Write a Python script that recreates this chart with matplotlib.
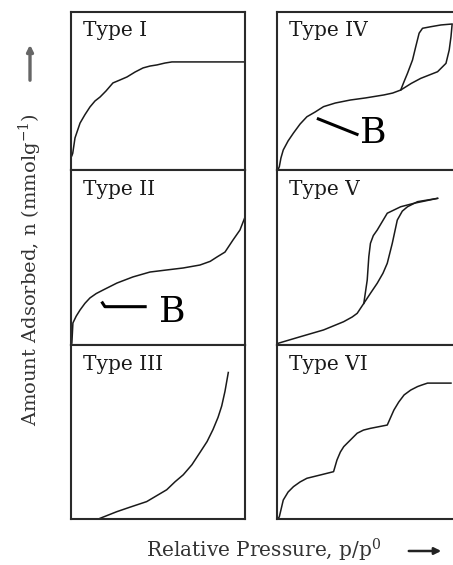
import matplotlib
matplotlib.use("Agg")
import matplotlib.pyplot as plt
from matplotlib.patches import FancyArrowPatch

plt.rcParams['font.family'] = ['DejaVu Serif']
plt.rcParams['mathtext.fontset'] = 'dejavuserif'

W, H = 453, 565
INK = '#1a1a1a'

# curves in panel units (x: 0..1 relative pressure, y: 0..1 amount)
t1_x = [0.005, 0.01, 0.023, 0.052, 0.080, 0.109, 0.138, 0.167, 0.201, 0.241, 0.282, 0.322,
        0.368, 0.414, 0.454, 0.494, 0.540, 0.580, 1.0]
t1_y = [0.09, 0.106, 0.203, 0.297, 0.350, 0.399, 0.437, 0.462, 0.500, 0.551, 0.570, 0.589,
        0.620, 0.646, 0.658, 0.665, 0.677, 0.684, 0.684]

t2_x = [0.005, 0.011, 0.030, 0.052, 0.080, 0.109, 0.145, 0.184, 0.264, 0.356, 0.454, 0.552,
        0.644, 0.741, 0.800, 0.839, 0.885, 0.931, 0.971, 1.0]
t2_y = [0.011, 0.126, 0.165, 0.200, 0.238, 0.269, 0.294, 0.314, 0.354, 0.389, 0.417, 0.429,
        0.440, 0.457, 0.478, 0.503, 0.531, 0.600, 0.657, 0.731]

t3_x = [0.167, 0.263, 0.339, 0.435, 0.550, 0.598, 0.645, 0.695, 0.741, 0.782, 0.816, 0.845,
        0.866, 0.885, 0.904]
t3_y = [0.004, 0.042, 0.068, 0.100, 0.168, 0.214, 0.254, 0.312, 0.382, 0.445, 0.514, 0.584,
        0.649, 0.734, 0.842]

t4_ads_x = [0.005, 0.013, 0.022, 0.035, 0.062, 0.092, 0.129, 0.167, 0.213, 0.260, 0.326, 0.410,
            0.494, 0.597, 0.646, 0.691, 0.750, 0.803, 0.897, 0.944, 0.962, 0.972, 0.978]
t4_ads_y = [0.0, 0.021, 0.076, 0.127, 0.184, 0.234, 0.291, 0.337, 0.367, 0.401, 0.424, 0.443,
            0.456, 0.475, 0.487, 0.506, 0.548, 0.580, 0.622, 0.675, 0.759, 0.844, 0.918]
t4_des_x = [0.691, 0.710, 0.729, 0.757, 0.775, 0.794, 0.813, 0.860, 0.916, 0.978]
t4_des_y = [0.506, 0.560, 0.612, 0.696, 0.780, 0.866, 0.897, 0.907, 0.918, 0.924]

t5_ads_x = [0.0, 0.007, 0.129, 0.260, 0.372, 0.420, 0.448, 0.485, 0.525, 0.560, 0.592, 0.616,
            0.644, 0.672, 0.700, 0.729, 0.785, 0.897]
t5_ads_y = [0.0, 0.010, 0.047, 0.086, 0.133, 0.160, 0.181, 0.238, 0.300, 0.353, 0.410, 0.467,
            0.581, 0.714, 0.765, 0.790, 0.819, 0.838]
t5_des_x = [0.485, 0.504, 0.513, 0.522, 0.538, 0.560, 0.616, 0.691, 0.766, 0.897]
t5_des_y = [0.238, 0.371, 0.505, 0.581, 0.625, 0.657, 0.753, 0.790, 0.810, 0.838]

t6_x = [0.005, 0.013, 0.035, 0.062, 0.092, 0.129, 0.167, 0.242, 0.316, 0.335, 0.354, 0.373,
        0.410, 0.448, 0.483, 0.522, 0.616, 0.653, 0.680, 0.710, 0.747, 0.785, 0.809, 0.841, 0.972]
t6_y = [0.0, 0.013, 0.109, 0.155, 0.186, 0.213, 0.234, 0.253, 0.272, 0.339, 0.385, 0.416,
        0.454, 0.493, 0.511, 0.521, 0.540, 0.626, 0.672, 0.713, 0.741, 0.761, 0.770, 0.781, 0.781]

# "B" pointers (monolayer point)
b2_x = [0.176, 0.195, 0.435]
b2_y = [0.248, 0.219, 0.219]
b2_label = (0.583, 0.186)
b4_x = [0.223, 0.455]
b4_y = [0.327, 0.222]
b4_label = (0.539, 0.234)

titles = ['Type I', 'Type II', 'Type III', 'Type IV', 'Type V', 'Type VI']

fig = plt.figure(figsize=(W / 100, H / 100), dpi=100)
fig.patch.set_facecolor('white')

# panel boxes in pixels
cols = [(71, 245), (277, 456)]
rows = [(12, 170), (170, 345), (345, 519)]

axes = []
for c in range(2):
    for r in range(3):
        l, rr = cols[c]
        t, b = rows[r]
        ax = fig.add_axes([l / W, 1 - b / H, (rr - l) / W, (b - t) / H])
        ax.set_xlim(0, 1)
        ax.set_ylim(0, 1)
        ax.set_xticks([])
        ax.set_yticks([])
        for s in ax.spines.values():
            s.set_linewidth(1.5)
            s.set_color('#2a2a2a')
        axes.append(ax)

for ax, name in zip(axes, titles):
    ax.text(12 / 174, 1 - 9 / 160, name, transform=ax.transAxes, ha='left', va='top',
            fontsize=14.5, color=INK)

lw = 1.1
axes[0].plot(t1_x, t1_y, color=INK, lw=lw)
axes[1].plot(t2_x, t2_y, color=INK, lw=lw)
axes[2].plot(t3_x, t3_y, color=INK, lw=lw)
axes[3].plot(t4_ads_x, t4_ads_y, color=INK, lw=lw)
axes[3].plot(t4_des_x, t4_des_y, color=INK, lw=lw)
axes[4].plot(t5_ads_x, t5_ads_y, color=INK, lw=lw)
axes[4].plot(t5_des_x, t5_des_y, color=INK, lw=lw)
axes[5].plot(t6_x, t6_y, color=INK, lw=lw)

axes[1].plot(b2_x, b2_y, color='black', lw=2.2, solid_capstyle='butt')
axes[1].text(*b2_label, 'B', ha='center', va='center', fontsize=26, color='black')
axes[3].plot(b4_x, b4_y, color='black', lw=2.2, solid_capstyle='butt')
axes[3].text(*b4_label, 'B', ha='center', va='center', fontsize=26, color='black')

# axis captions with arrows
fig.text(30 / W, 1 - 270 / H, 'Amount Adsorbed, n (mmolg$^{-1}$)', rotation=90,
         ha='center', va='center', fontsize=14, color='#333333')
fig.add_artist(FancyArrowPatch((30 / W, 1 - 83 / H), (30 / W, 1 - 42 / H),
               transform=fig.transFigure, arrowstyle='-|>', mutation_scale=9,
               color='#666666', lw=2.4))
fig.text(264 / W, 1 - 550 / H, 'Relative Pressure, p/p$^{0}$', ha='center', va='center',
         fontsize=14.5, color='#333333')
fig.add_artist(FancyArrowPatch((406 / W, 1 - 551 / H), (444 / W, 1 - 551 / H),
               transform=fig.transFigure, arrowstyle='-|>', mutation_scale=10,
               color='#222222', lw=1.8))

fig.savefig('out.png', dpi=100, facecolor='white')
